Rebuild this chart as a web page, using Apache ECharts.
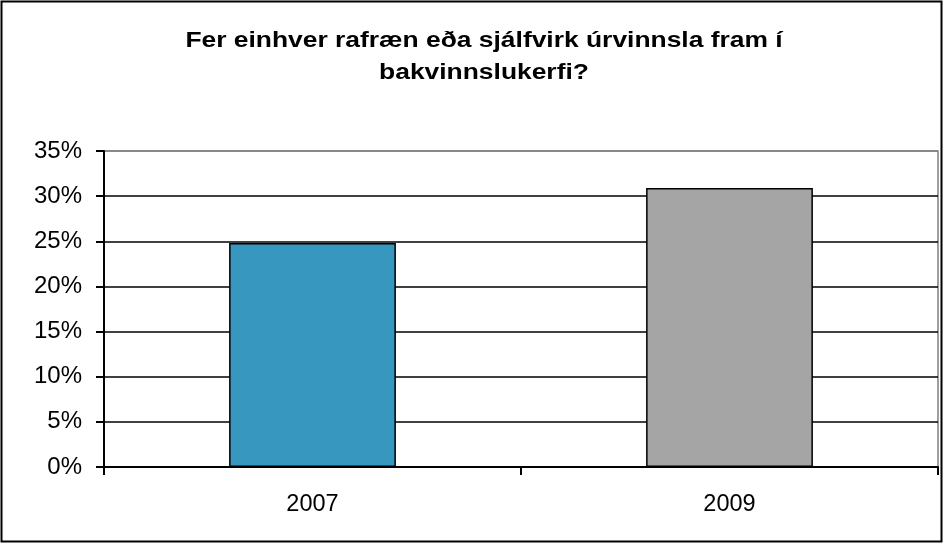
<!DOCTYPE html>
<html>
<head>
    <meta charset="utf-8">
    <script src="https://cdn.jsdelivr.net/npm/echarts@6/dist/echarts.min.js"></script>
    <style>
        body, html {
            margin: 0;
            height: 100%;
            background: #fff;
        }
        #main {
            width: 944px;
            height: 544px;
        }
    </style>
</head>
<body>
<div id="main"></div>

<script>
    // gögn
    var titleText = 'Fer einhver rafræn eða sjálfvirk úrvinnsla fram í\nbakvinnslukerfi?';
    var years = ['2007', '2009'];
    var values = [24.8, 30.9];
    var barColors = ['#3797BF', '#A5A5A5'];
    var yTicks = [0, 5, 10, 15, 20, 25, 30, 35];

    var font = '"Liberation Sans", Arial, sans-serif';

    var myChart = echarts.init(document.getElementById('main'));

    var option = {
        animation: false,
        graphic: [{
            // titill - teygður aðeins á breiddina eins og í Excel
            type: 'text',
            x: 484,
            y: 25,
            scaleX: 1.2,
            style: {
                text: titleText,
                align: 'center',
                verticalAlign: 'top',
                font: 'bold 22px ' + font,
                lineHeight: 32,
                fill: '#000'
            }
        }, {
            type: 'rect',
            shape: {x: 1.5, y: 1.5, width: 940, height: 540},
            style: {fill: 'none', stroke: '#000', lineWidth: 2},
            z: 100
        }],
        grid: {
            left: 104,
            right: 6,
            top: 151,
            bottom: 77,
            show: true,
            borderColor: '#808080',
            borderWidth: 1.5
        },
        xAxis: {
            type: 'category',
            data: years,
            boundaryGap: true,
            axisLine: {lineStyle: {color: '#000', width: 2}},
            axisTick: {show: true, length: 8, lineStyle: {color: '#000', width: 2}},
            axisLabel: {
                margin: 26,
                fontFamily: font,
                fontSize: 23.5,
                color: '#000'
            }
        },
        yAxis: {
            type: 'value',
            min: yTicks[0],
            max: yTicks[yTicks.length - 1],
            interval: 5,
            axisLine: {show: true, lineStyle: {color: '#000', width: 2}},
            axisTick: {show: true, length: 8, lineStyle: {color: '#000', width: 2}},
            axisLabel: {
                margin: 22,
                fontFamily: font,
                fontSize: 24,
                color: '#000',
                formatter: '{value}%'
            },
            splitLine: {
                show: true,
                lineStyle: {
                    color: ['#000', '#000', '#000', '#000', '#000', '#000', '#000', '#808080'],
                    width: 1.5
                }
            }
        },
        series: [{
            type: 'bar',
            barWidth: '40%',
            data: values.map(function (v, i) {
                return {
                    value: v,
                    itemStyle: {
                        color: barColors[i],
                        borderColor: '#000',
                        borderWidth: 1.5
                    }
                };
            })
        }]
    };

    myChart.setOption(option);
</script>
</body>
</html>
